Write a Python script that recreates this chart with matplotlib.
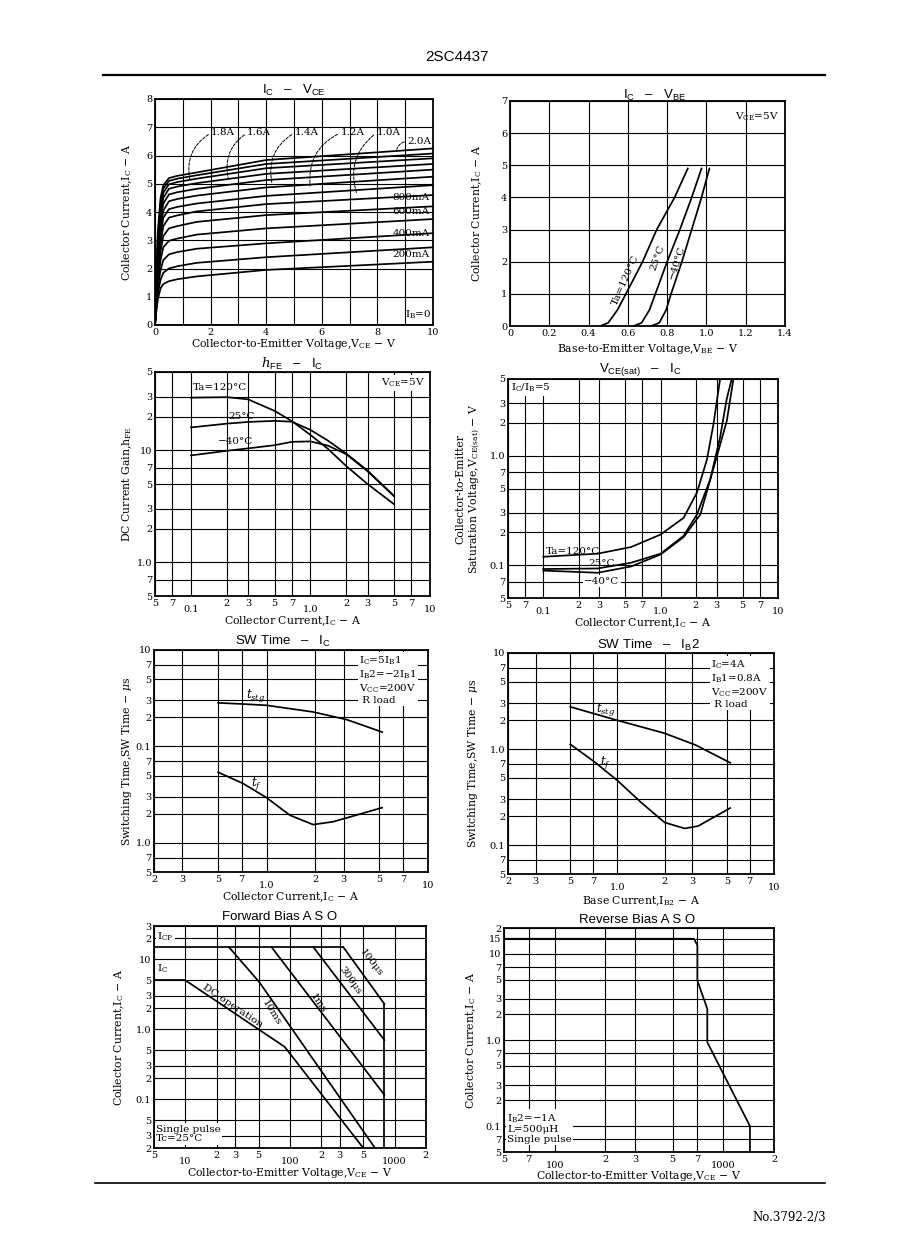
import matplotlib
matplotlib.use('Agg')
import matplotlib.pyplot as plt

plt.rcParams['font.family'] = 'serif'
plt.rcParams['font.serif'] = ['DejaVu Serif']
plt.rcParams['mathtext.fontset'] = 'custom'
plt.rcParams['mathtext.rm'] = 'DejaVu Serif'
plt.rcParams['mathtext.it'] = 'DejaVu Serif:italic'
plt.rcParams['mathtext.sf'] = 'Liberation Sans'
plt.rcParams['axes.unicode_minus'] = True

SANS = 'Liberation Sans'

# ---- IC - VCE family ----
vce_pts = [0, 0.05, 0.1, 0.2, 0.3, 0.5, 0.8, 1.5, 4, 10]
ic_family = [
    [0, 0.5, 0.9, 1.3, 1.45, 1.55, 1.62, 1.72, 1.95, 2.24],
    [0, 0.6, 1.1, 1.6, 1.85, 2.0, 2.08, 2.2, 2.40, 2.75],
    [0, 0.7, 1.3, 1.95, 2.3, 2.5, 2.58, 2.7, 2.89, 3.25],
    [0, 0.8, 1.5, 2.3, 2.75, 2.98, 3.06, 3.2, 3.42, 3.75],
    [0, 0.9, 1.7, 2.6, 3.15, 3.42, 3.5, 3.65, 3.89, 4.2],
    [0, 1.0, 1.9, 2.9, 3.5, 3.8, 3.88, 4.02, 4.28, 4.6],
    [0, 1.1, 2.1, 3.2, 3.8, 4.1, 4.18, 4.3, 4.57, 4.95],
    [0, 1.2, 2.3, 3.45, 4.05, 4.38, 4.46, 4.58, 4.87, 5.25],
    [0, 1.3, 2.5, 3.7, 4.3, 4.62, 4.7, 4.82, 5.13, 5.5],
    [0, 1.4, 2.7, 3.9, 4.5, 4.82, 4.9, 5.02, 5.35, 5.7],
    [0, 1.5, 2.9, 4.1, 4.68, 4.98, 5.06, 5.18, 5.55, 5.9],
    [0, 1.6, 3.1, 4.3, 4.83, 5.1, 5.18, 5.3, 5.70, 6.07],
    [0, 1.7, 3.3, 4.5, 4.95, 5.2, 5.28, 5.4, 5.84, 6.25],
]

# ---- IC - VBE ----
ic_vbe = [0, 0.1, 0.5, 1, 2, 3, 4, 4.9]
vbe_120 = [0.46, 0.50, 0.547, 0.59, 0.675, 0.747, 0.838, 0.905]
vbe_25 = [0.63, 0.67, 0.71, 0.74, 0.80, 0.865, 0.925, 0.975]
vbe_m40 = [0.72, 0.76, 0.795, 0.82, 0.875, 0.925, 0.975, 1.015]

# ---- hFE - IC ----
ic_hfe = [0.1, 0.2, 0.3, 0.5, 0.7, 1.0, 1.4, 2.0, 3.0, 5.0]
hfe_120 = [29.5, 29.8, 28.5, 22.5, 18.2, 13.7, 10.3, 7.2, 5.0, 3.3]
hfe_25 = [16, 17.3, 17.9, 18.3, 18, 15.2, 12.2, 9.3, 6.6, 3.9]
hfe_m40 = [9.0, 9.9, 10.4, 11.1, 11.9, 12.0, 11.0, 9.2, 6.5, 3.9]

# ---- VCE(sat) - IC ----
ic_sat_120 = [0.1, 0.29, 0.56, 1.0, 1.57, 2.04, 2.48, 2.82, 3.21]
vsat_120 = [0.119, 0.127, 0.146, 0.19, 0.27, 0.46, 0.92, 1.94, 5.0]
ic_sat_25 = [0.1, 0.29, 0.56, 1.0, 1.57, 2.04, 2.65, 3.21, 3.66, 4.03]
vsat_25 = [0.092, 0.093, 0.105, 0.127, 0.185, 0.29, 0.61, 1.47, 3.3, 5.0]
ic_sat_m40 = [0.1, 0.29, 0.56, 1.0, 1.57, 2.18, 3.01, 3.66, 4.17]
vsat_m40 = [0.089, 0.085, 0.097, 0.125, 0.18, 0.29, 0.98, 2.07, 5.0]

# ---- SW time - IC ----
ic_tstg = [0.5, 0.7, 1.0, 1.94, 3.13, 5.2]
tstg_ic = [2.83, 2.76, 2.67, 2.28, 1.9, 1.41]
ic_tf = [0.5, 0.71, 1.0, 1.39, 1.94, 2.58, 3.13, 5.2]
tf_ic = [0.54, 0.415, 0.294, 0.194, 0.155, 0.166, 0.182, 0.232]

# ---- SW time - IB2 ----
ib_tstg = [0.5, 1.0, 2.0, 3.16, 5.25]
tstg_ib = [2.75, 1.99, 1.46, 1.1, 0.72]
ib_tf = [0.5, 0.71, 1.0, 1.41, 2.0, 2.69, 3.28, 5.25]
tf_ib = [1.12, 0.74, 0.47, 0.28, 0.172, 0.149, 0.158, 0.243]

# ---- Forward bias ASO ----
fb_icp_v, fb_icp_i = [5, 323], [15, 15]
fb_ic_v, fb_ic_i = [5, 10], [5, 5]
fb_dc_v, fb_dc_i = [10, 89, 502], [5, 0.56, 0.02]
fb_10ms_v, fb_10ms_i = [26, 51, 650], [15, 4.7, 0.02]
fb_1ms_v, fb_1ms_i = [66.5, 800], [15, 0.115]
fb_300us_v, fb_300us_i = [167, 800], [15, 0.70]
fb_100us_v, fb_100us_i = [323, 800], [15, 2.3]
fb_vmax_v, fb_vmax_i = [800, 800], [2.3, 0.02]

# ---- Reverse bias ASO ----
rb_v = [50, 670, 702, 702, 804, 804, 1440, 1440]
rb_i = [15, 15, 12.6, 4.9, 2.3, 0.94, 0.1, 0.05]

W, H = 898, 1260
fig = plt.figure(figsize=(W / 100, H / 100), dpi=100)


def add_ax(x0, y0, x1, y1):
    return fig.add_axes([x0 / W, 1 - y1 / H, (x1 - x0) / W, (y1 - y0) / H])


def ptext(x, y, s, **kw):
    kw.setdefault('ha', 'center')
    kw.setdefault('va', 'center')
    return fig.text(x / W, 1 - y / H, s, **kw)


WHITE = dict(facecolor='white', edgecolor='none', pad=1.0)
LOW = {'0.1', '1.0', '10', '100', '1000'}


def set_axis(ax, axis, ticks, labels, lim, low=()):
    maj = [(t, l) for t, l in zip(ticks, labels) if l in low]
    mnr = [(t, l) for t, l in zip(ticks, labels) if l not in low]
    getattr(ax, 'set_%slim' % axis)(lim)
    setter = getattr(ax, 'set_%sticks' % axis)
    setter([t for t, _ in maj], [l for _, l in maj])
    setter([t for t, _ in mnr], [l for _, l in mnr], minor=True)
    ax.tick_params(axis=axis, which='major', pad=6.5 if axis == 'x' else 2)
    ax.tick_params(axis=axis, which='minor', pad=2)


def finish(ax, xlabel, ylabel, xl_y, yl_x):
    ax.tick_params(which='both', length=0, labelsize=7)
    ax.grid(True, which='both', color='black', lw=0.8)
    for s in ax.spines.values():
        s.set_linewidth(1.3)
    ax.set_xlabel(xlabel, fontsize=7.8)
    ax.set_ylabel(ylabel, fontsize=7.8)
    ax.xaxis.set_label_coords(0.5, xl_y)
    ax.yaxis.set_label_coords(yl_x, 0.5)


lw = 1.25
fs = 7.5

# ---------------- Panel 1 ----------------
ax = add_ax(155, 99, 433, 325)
for row in ic_family:
    ax.plot(vce_pts, row, color='black', lw=lw)
ax.plot([0, 10], [0, 0], color='black', lw=lw)
set_axis(ax, 'x', list(range(11)), ['0', '', '2', '', '4', '', '6', '', '8', '', '10'], (0, 10))
set_axis(ax, 'y', list(range(9)), [str(i) for i in range(9)], (0, 8))
finish(ax, r'Collector-to-Emitter Voltage,V$_{\rm CE}$ $-$ V', r'Collector Current,I$_{\rm C}$ $-$ A', -0.053, -0.076)
leaders = [('1.8A', (2.45, 6.8), (1.25, 5.15)), ('1.6A', (3.75, 6.8), (2.64, 5.17)),
           ('1.4A', (5.45, 6.8), (4.2, 5.05)), ('1.2A', (7.1, 6.8), (5.58, 4.92)),
           ('1.0A', (8.4, 6.8), (7.25, 4.66)), ('2.0A', (9.5, 6.49), (8.7, 6.22))]
for lab, tp, pp in leaders:
    ax.annotate(lab, xy=pp, xytext=tp, fontsize=fs, ha='center', va='center',
                arrowprops=dict(arrowstyle='-', lw=0.7, ls=(0, (3, 1.5)), relpos=(0, 0.5),
                                connectionstyle='arc3,rad=0.35', shrinkA=0, shrinkB=0))
for lab, y in [('800mA', 4.5), ('600mA', 4.02), ('400mA', 3.25), ('200mA', 2.48)]:
    ax.text(9.2, y, lab, fontsize=fs, ha='center', va='center')
ax.text(9.45, 0.35, r'I$_{\rm B}$=0', fontsize=fs, ha='center', va='center')

# ---------------- Panel 2 ----------------
ax = add_ax(510, 101, 785, 326)
for v in (vbe_120, vbe_25, vbe_m40):
    ax.plot(v, ic_vbe, color='black', lw=lw)
xt = [0, 0.2, 0.4, 0.6, 0.8, 1.0, 1.2, 1.4]
set_axis(ax, 'x', xt, ['0', '0.2', '0.4', '0.6', '0.8', '1.0', '1.2', '1.4'], (0, 1.4))
set_axis(ax, 'y', list(range(8)), [str(i) for i in range(8)], (0, 7))
finish(ax, r'Base-to-Emitter Voltage,V$_{\rm BE}$ $-$ V', r'Collector Current,I$_{\rm C}$ $-$ A', -0.071, -0.095)
ax.text(1.37, 6.5, r'V$_{\rm CE}$=5V', fontsize=fs, ha='right', va='center')
ptext(626, 280, 'Ta=120°C', fontsize=fs, rotation=66)
ptext(657, 258, '25°C', fontsize=fs, rotation=70)
ptext(677, 262, '−40°C', fontsize=fs, rotation=72)

# ---------------- Panel 3 ----------------
ax = add_ax(155, 372, 430, 596)
ax.set_xscale('log')
ax.set_yscale('log')
for h in (hfe_120, hfe_25, hfe_m40):
    ax.plot(ic_hfe, h, color='black', lw=lw)
xt_a = [0.05, 0.07, 0.1, 0.2, 0.3, 0.5, 0.7, 1, 2, 3, 5, 7, 10]
xl_a = ['5', '7', '0.1', '2', '3', '5', '7', '1.0', '2', '3', '5', '7', '10']
set_axis(ax, 'x', xt_a, xl_a, (0.05, 10), LOW)
set_axis(ax, 'y', [0.5, 0.7, 1, 2, 3, 5, 7, 10, 20, 30, 50],
         ['5', '7', '1.0', '2', '3', '5', '7', '10', '2', '3', '5'], (0.5, 50))
finish(ax, r'Collector Current,I$_{\rm C}$ $-$ A', r'DC Current Gain,h$_{\rm FE}$', -0.084, -0.076)
ptext(403, 383, r'V$_{\rm CE}$=5V', fontsize=fs, bbox=WHITE)
ptext(193, 388, 'Ta=120°C', fontsize=fs, ha='left')
ptext(228, 417, '25°C', fontsize=fs, ha='left')
ptext(218, 441, '−40°C', fontsize=fs, ha='left')

# ---------------- Panel 4 ----------------
ax = add_ax(508, 379, 778, 598)
ax.set_xscale('log')
ax.set_yscale('log')
ax.plot(ic_sat_120, vsat_120, color='black', lw=lw)
ax.plot(ic_sat_25, vsat_25, color='black', lw=lw)
ax.plot(ic_sat_m40, vsat_m40, color='black', lw=lw)
set_axis(ax, 'x', xt_a, xl_a, (0.05, 10), LOW)
set_axis(ax, 'y', [0.05, 0.07, 0.1, 0.2, 0.3, 0.5, 0.7, 1, 2, 3, 5],
         ['5', '7', '0.1', '2', '3', '5', '7', '1.0', '2', '3', '5'], (0.05, 5))
finish(ax, r'Collector Current,I$_{\rm C}$ $-$ A',
       'Collector-to-Emitter\n' + r'Saturation Voltage,V$_{\rm CE(sat)}$ $-$ V', -0.086, -0.096)
ptext(511, 388, r'I$_{\rm C}$/I$_{\rm B}$=5', fontsize=fs, ha='left', bbox=WHITE)
ptext(546, 551, 'Ta=120°C', fontsize=fs, ha='left')
ptext(588, 564, '25°C', fontsize=fs, ha='left')
ptext(584, 581, '−40°C', fontsize=fs, ha='left', bbox=WHITE)

# ---------------- Panel 5 ----------------
xt_b = [0.2, 0.3, 0.5, 0.7, 1, 2, 3, 5, 7, 10]
xl_b = ['2', '3', '5', '7', '1.0', '2', '3', '5', '7', '10']
yt_b = [0.05, 0.07, 0.1, 0.2, 0.3, 0.5, 0.7, 1, 2, 3, 5, 7, 10]
ax = add_ax(154, 650, 428, 872)
ax.set_xscale('log')
ax.set_yscale('log')
ax.plot(ic_tstg, tstg_ic, color='black', lw=lw)
ax.plot(ic_tf, tf_ic, color='black', lw=lw)
set_axis(ax, 'x', xt_b, xl_b, (0.2, 10), LOW)
set_axis(ax, 'y', yt_b, ['5', '7', '1.0', '2', '3', '5', '7', '0.1', '2', '3', '5', '7', '10'], (0.05, 10))
finish(ax, r'Collector Current,I$_{\rm C}$ $-$ A', r'Switching Time,SW Time $-$ $\mu$s', -0.081, -0.073)
ptext(359, 680, r'I$_{\rm C}$=5I$_{\rm B}$1' + '\n' + r'I$_{\rm B}$2=−2I$_{\rm B}$1' + '\n'
      + r'V$_{\rm CC}$=200V' + '\n' + ' R load', fontsize=fs, ha='left', linespacing=1.15, bbox=WHITE)
ptext(256, 696, r'$t_{stg}$', fontsize=8.5)
ptext(257, 783, r'$t_f$', fontsize=8.5)

# ---------------- Panel 6 ----------------
ax = add_ax(508, 653, 774, 874)
ax.set_xscale('log')
ax.set_yscale('log')
ax.plot(ib_tstg, tstg_ib, color='black', lw=lw)
ax.plot(ib_tf, tf_ib, color='black', lw=lw)
set_axis(ax, 'x', xt_b, xl_b, (0.2, 10), LOW)
set_axis(ax, 'y', yt_b, ['5', '7', '0.1', '2', '3', '5', '7', '1.0', '2', '3', '5', '7', '10'], (0.05, 10))
finish(ax, r'Base Current,I$_{\rm B2}$ $-$ A', r'Switching Time,SW Time $-$ $\mu$s', -0.092, -0.105)
ptext(711, 684, r'I$_{\rm C}$=4A' + '\n' + r'I$_{\rm B}$1=0.8A' + '\n'
      + r'V$_{\rm CC}$=200V' + '\n' + ' R load', fontsize=fs, ha='left', linespacing=1.15, bbox=WHITE)
ptext(606, 709, r'$t_{stg}$', fontsize=8.5)
ptext(606, 763, r'$t_f$', fontsize=8.5)

# ---------------- Panel 7 ----------------
ax = add_ax(154, 926, 426, 1148)
ax.set_xscale('log')
ax.set_yscale('log')
for v, i in [(fb_icp_v, fb_icp_i), (fb_ic_v, fb_ic_i), (fb_dc_v, fb_dc_i), (fb_10ms_v, fb_10ms_i),
             (fb_1ms_v, fb_1ms_i), (fb_300us_v, fb_300us_i), (fb_100us_v, fb_100us_i),
             (fb_vmax_v, fb_vmax_i)]:
    ax.plot(v, i, color='black', lw=lw)
set_axis(ax, 'x', [5, 10, 20, 30, 50, 100, 200, 300, 500, 1000, 2000],
         ['5', '10', '2', '3', '5', '100', '2', '3', '5', '1000', '2'], (5, 2000), LOW)
set_axis(ax, 'y', [0.02, 0.03, 0.05, 0.1, 0.2, 0.3, 0.5, 1, 2, 3, 5, 10, 20, 30],
         ['2', '3', '5', '0.1', '2', '3', '5', '1.0', '2', '3', '5', '10', '2', '3'], (0.02, 30))
finish(ax, r'Collector-to-Emitter Voltage,V$_{\rm CE}$ $-$ V', r'Collector Current,I$_{\rm C}$ $-$ A', -0.082, -0.103)
ptext(157, 937, r'I$_{\rm CP}$', fontsize=fs, ha='left', bbox=WHITE)
ptext(157, 969, r'I$_{\rm C}$', fontsize=fs, ha='left')
ptext(233, 1006, 'DC operation', fontsize=fs, rotation=-34)
ptext(271, 1013, '10ms', fontsize=fs, rotation=-58)
ptext(318, 1003, '1ms', fontsize=fs, rotation=-55)
ptext(350, 981, '300μs', fontsize=fs, rotation=-55)
ptext(371, 963, '100μs', fontsize=fs, rotation=-52)
ptext(156, 1134, 'Single pulse\nTc=25°C', fontsize=fs, ha='left', linespacing=1.1, bbox=WHITE)

# ---------------- Panel 8 ----------------
ax = add_ax(504, 928, 774, 1152)
ax.set_xscale('log')
ax.set_yscale('log')
ax.plot(rb_v, rb_i, color='black', lw=lw)
set_axis(ax, 'x', [50, 70, 100, 200, 300, 500, 700, 1000, 2000],
         ['5', '7', '100', '2', '3', '5', '7', '1000', '2'], (50, 2000), LOW)
set_axis(ax, 'y', [0.05, 0.07, 0.1, 0.2, 0.3, 0.5, 0.7, 1, 2, 3, 5, 7, 10, 15, 20],
         ['5', '7', '0.1', '2', '3', '5', '7', '1.0', '2', '3', '5', '7', '10', '15', '2'], (0.05, 20))
finish(ax, r'Collector-to-Emitter Voltage,V$_{\rm CE}$ $-$ V', r'Collector Current,I$_{\rm C}$ $-$ A', -0.078, -0.096)
ptext(507, 1128, r'I$_{\rm B}$2=−1A' + '\n' + 'L=500μH' + '\n' + 'Single pulse',
      fontsize=fs, ha='left', linespacing=1.1, bbox=WHITE)

# ---------------- titles, header, footer ----------------
tkw = dict(fontsize=9.5, family=SANS)
ptext(294, 90, r'I$_\mathsf{C}$   –   V$_\mathsf{CE}$', **tkw)
ptext(655, 95, r'I$_\mathsf{C}$   –   V$_\mathsf{BE}$', **tkw)
ptext(292, 364, r'$h_\mathsf{FE}$   –   I$_\mathsf{C}$', **tkw)
ptext(640, 369, r'V$_\mathsf{CE(sat)}$   –   I$_\mathsf{C}$', **tkw)
ptext(283, 641, r'SW Time   –   I$_\mathsf{C}$', **tkw)
ptext(648, 645, r'SW Time   –   I$_\mathsf{B}$2', **tkw)
ptext(280, 917, 'Forward Bias A S O', **tkw)
ptext(637, 920, 'Reverse Bias A S O', **tkw)

ptext(457, 57, '2SC4437', fontsize=11, family=SANS)
fig.add_artist(plt.Line2D([103 / W, 825 / W], [1 - 75 / H, 1 - 75 / H], color='black', lw=1.6))
fig.add_artist(plt.Line2D([95 / W, 825 / W], [1 - 1183 / H, 1 - 1183 / H], color='black', lw=1.2))
ptext(826, 1218, 'No.3792-2/3', fontsize=8.5, ha='right')

fig.savefig('out.png', dpi=100)
